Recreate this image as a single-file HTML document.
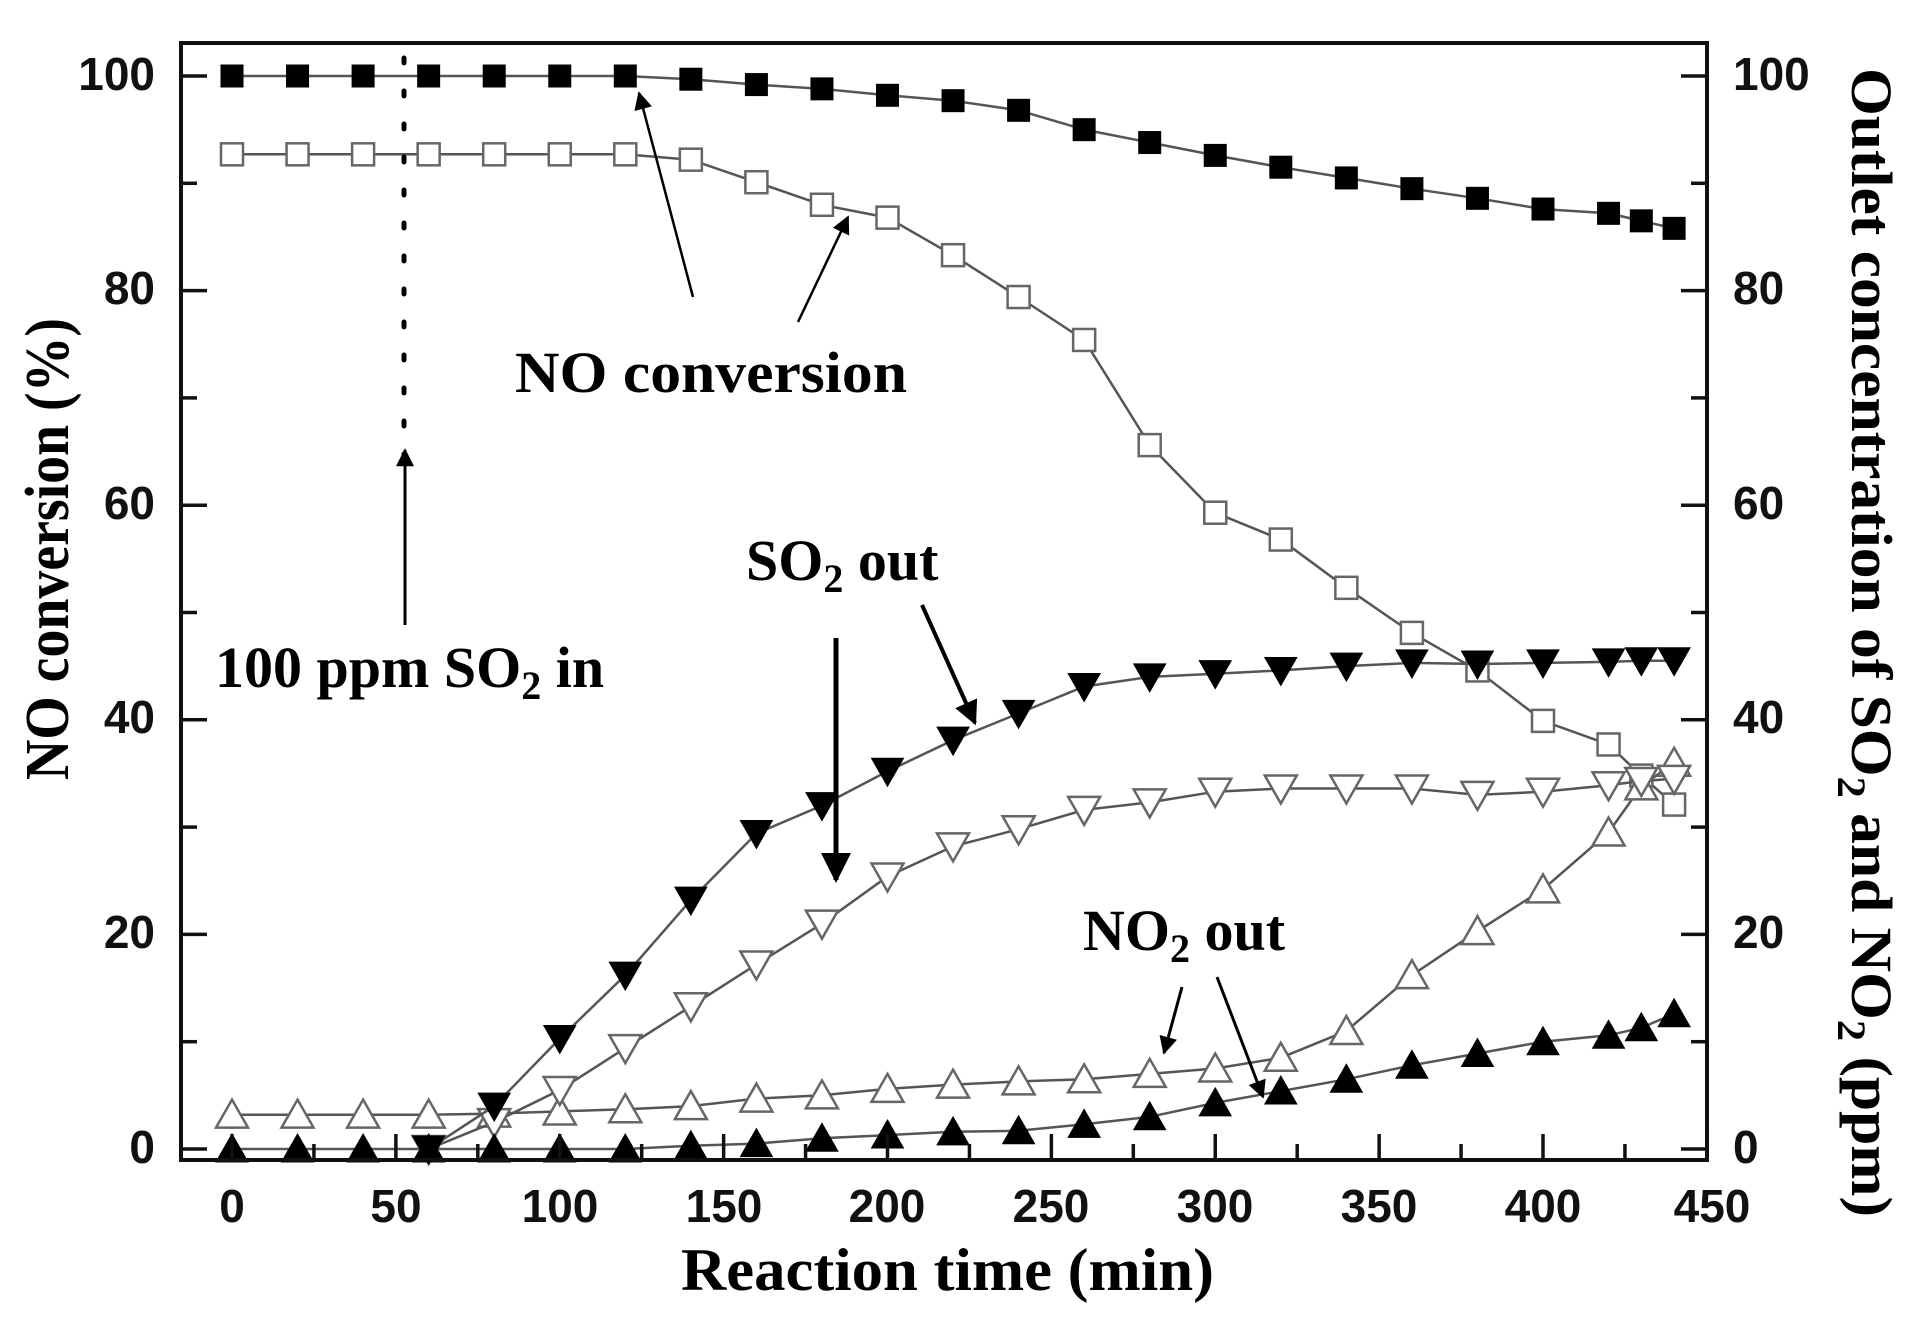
<!DOCTYPE html>
<html><head><meta charset="utf-8"><style>
html,body{margin:0;padding:0;background:#fff;}
svg{display:block;}
.tk{font-family:"Liberation Sans",Arial,sans-serif;font-weight:bold;font-size:46px;fill:#111;}
.an{font-family:"Liberation Serif","Times New Roman",serif;font-weight:bold;fill:#000;}
</style></head><body>
<svg id="s" width="1917" height="1320" viewBox="0 0 1917 1320" xmlns="http://www.w3.org/2000/svg">
<defs>
<marker id="ah" viewBox="0 0 10 10" refX="9" refY="5" markerWidth="28" markerHeight="18" orient="auto" markerUnits="userSpaceOnUse"><path d="M0,0 L10,5 L0,10 z" fill="#000"/></marker>
<marker id="ah2" viewBox="0 0 10 10" refX="9" refY="5" markerWidth="8" markerHeight="6" orient="auto" markerUnits="strokeWidth"><path d="M0,0 L10,5 L0,10 z" fill="#000"/></marker>
</defs>
<rect x="0" y="0" width="1917" height="1320" fill="#fff"/>
<g id="data"></g>
<rect x="181" y="43" width="1526" height="1117" fill="none" stroke="#111" stroke-width="4"/>
<g id="ticks" stroke="#111" stroke-width="3.5"></g>
<g class="tk" text-anchor="end">
<text x="155" y="90">100</text>
<text x="155" y="304">80</text>
<text x="155" y="519">60</text>
<text x="155" y="733">40</text>
<text x="155" y="948">20</text>
<text x="155" y="1163">0</text>
</g>
<g class="tk" text-anchor="start">
<text x="1733" y="90">100</text>
<text x="1733" y="304">80</text>
<text x="1733" y="519">60</text>
<text x="1733" y="733">40</text>
<text x="1733" y="948">20</text>
<text x="1733" y="1163">0</text>
</g>
<g class="tk" text-anchor="middle">
<text x="232" y="1222">0</text>
<text x="396" y="1222">50</text>
<text x="560" y="1222">100</text>
<text x="724" y="1222">150</text>
<text x="887" y="1222">200</text>
<text x="1051" y="1222">250</text>
<text x="1215" y="1222">300</text>
<text x="1379" y="1222">350</text>
<text x="1543" y="1222">400</text>
<text x="1712" y="1222">450</text>
</g>
<text class="an" x="681" y="1290" font-size="60" textLength="533" lengthAdjust="spacingAndGlyphs">Reaction time (min)</text>
<text class="an" font-size="62" transform="translate(68,780) rotate(-90)" textLength="462" lengthAdjust="spacingAndGlyphs">NO conversion (%)</text>
<text class="an" font-size="58" transform="translate(1852,68) rotate(90)" textLength="1149" lengthAdjust="spacingAndGlyphs">Outlet concentration of SO<tspan font-size="40" dy="14">2</tspan><tspan dy="-14"> and NO</tspan><tspan font-size="40" dy="14">2</tspan><tspan dy="-14"> (ppm)</tspan></text>
<line x1="404" y1="58" x2="404" y2="455" stroke="#000" stroke-width="5" stroke-dasharray="5 28" stroke-linecap="round"/>
<line x1="405" y1="625" x2="405" y2="450" stroke="#000" stroke-width="3" marker-end="url(#ah)"/>
<text class="an" x="215" y="687" font-size="58">100 ppm SO<tspan font-size="40" dy="12">2</tspan><tspan dy="-12"> in</tspan></text>
<text class="an" x="515" y="392" font-size="58" textLength="392" lengthAdjust="spacingAndGlyphs">NO conversion</text>
<line x1="693" y1="297" x2="639" y2="93" stroke="#000" stroke-width="2.5" marker-end="url(#ah)"/>
<line x1="798" y1="322" x2="848" y2="217" stroke="#000" stroke-width="2.5" marker-end="url(#ah)"/>
<text class="an" x="746" y="580" font-size="58">SO<tspan font-size="40" dy="12">2</tspan><tspan dy="-12"> out</tspan></text>
<line x1="836" y1="638" x2="836" y2="880" stroke="#000" stroke-width="5" marker-end="url(#ah2)"/>
<line x1="922" y1="605" x2="975" y2="723" stroke="#000" stroke-width="4" marker-end="url(#ah2)"/>
<text class="an" x="1083" y="950" font-size="58">NO<tspan font-size="40" dy="12">2</tspan><tspan dy="-12"> out</tspan></text>
<line x1="1182" y1="987" x2="1164" y2="1053" stroke="#000" stroke-width="3" marker-end="url(#ah)"/>
<line x1="1217" y1="977" x2="1263" y2="1097" stroke="#000" stroke-width="3" marker-end="url(#ah)"/>
</svg>
<script>
(function(){
var NS="http://www.w3.org/2000/svg";
function X(t){return 232+3.2775*t;}
function Y(v){return 1149-10.73*v;}
var g=document.getElementById('data'), tk=document.getElementById('ticks');
function el(n,a,p){var e=document.createElementNS(NS,n);for(var k in a)e.setAttribute(k,a[k]);(p||g).appendChild(e);return e;}
for(var v=0;v<=100;v+=10){var y=Y(v),L=(v%20==0)?24:14;
 el('line',{x1:183,y1:y,x2:183+L,y2:y},tk);el('line',{x1:1705,y1:y,x2:1705-L,y2:y},tk);}
for(var t=0;t<=450;t+=25){var x=X(t),L=(t%50==0)?24:14;el('line',{x1:x,y1:1158,x2:x,y2:1158-L},tk);}
var T=[0,20,40,60,80,100,120,140,160,180,200,220,240,260,280,300,320,340,360,380,400,420,430,440];
var fsq=[100,100,100,100,100,100,100,99.7,99.2,98.8,98.2,97.7,96.8,95,93.8,92.6,91.5,90.5,89.5,88.6,87.6,87.2,86.5,85.8];
var osq=[92.7,92.7,92.7,92.7,92.7,92.7,92.7,92.2,90.1,88,86.8,83.3,79.4,75.4,65.6,59.3,56.8,52.3,48.1,44.6,39.9,37.7,34.8,32.1];
var fdn=[null,null,null,0,4,10.3,16.2,23.2,29.4,32,35.2,38.1,40.6,43.1,44,44.3,44.6,45,45.3,45.2,45.3,45.4,45.5,45.5];
var odn=[null,null,null,0,2.5,5.5,9.4,13.3,17.2,21,25.4,28.2,29.8,31.6,32.3,33.3,33.6,33.6,33.6,33,33.3,33.9,34.3,34.5];
var oup=[3.2,3.2,3.2,3.2,3.3,3.5,3.7,4,4.7,5,5.6,6,6.3,6.5,7,7.5,8.5,11,16.2,20.3,24.2,29.5,33.8,36];
var fup=[0,0,0,0,0,0,0,0.3,0.5,1,1.3,1.6,1.7,2.3,3,4.3,5.4,6.5,7.8,8.9,10,10.6,11.3,12.6];
function series(vals,shape,fill){
 var pts=[];for(var i=0;i<T.length;i++)if(vals[i]!=null)pts.push([X(T[i]),Y(vals[i])]);
 var d='';pts.forEach(function(p,i){d+=(i?'L':'M')+p[0].toFixed(1)+','+p[1].toFixed(1);});
 el('path',{d:d,fill:'none',stroke:'#555','stroke-width':2.5});
 pts.forEach(function(p){var x=p[0],y=p[1],s;
  var st=fill?{fill:'#000',stroke:'#000','stroke-width':1}:{fill:'#fff',stroke:'#666','stroke-width':2.5};
  if(shape=='sq'){s=11;st.x=x-s;st.y=y-s;st.width=2*s;st.height=2*s;el('rect',st);}
  else if(shape=='up'){st.points=(x-16)+','+(y+13)+' '+(x+16)+','+(y+13)+' '+x+','+(y-15);el('polygon',st);}
  else {st.points=(x-16)+','+(y-13)+' '+(x+16)+','+(y-13)+' '+x+','+(y+15);el('polygon',st);}
 });
}
series(fsq,'sq',true);series(osq,'sq',false);
series(oup,'up',false);series(odn,'dn',false);
series(fup,'up',true);series(fdn,'dn',true);
})();
</script>
</body></html>
